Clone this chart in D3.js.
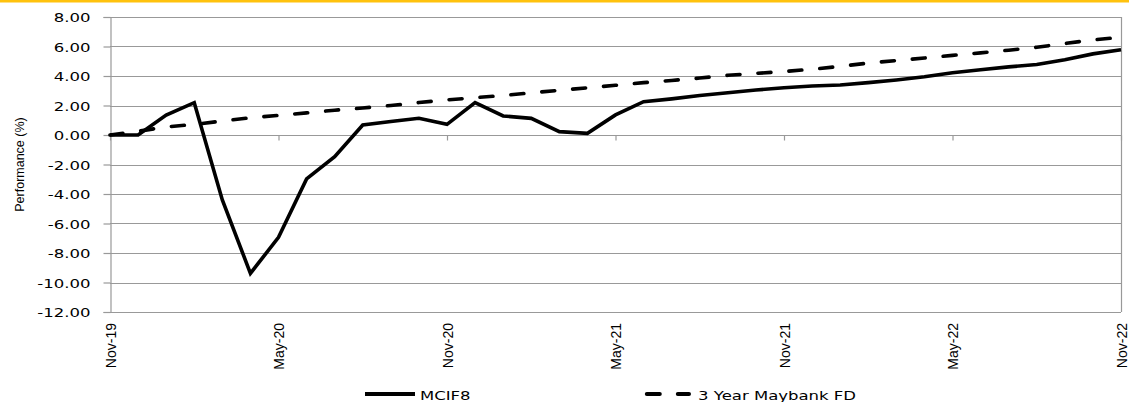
<!DOCTYPE html>
<html>
<head>
<meta charset="utf-8">
<script src="https://cdn.jsdelivr.net/npm/d3@7"></script>
<style>
  body { margin: 0; background: #fff; }
  svg { display: block; }
</style>
</head>
<body>
<svg id="chart"></svg>
<script>
// Monthly categories
const months = [
    'Nov-19', 'Dec-19', 'Jan-20', 'Feb-20', 'Mar-20', 'Apr-20', 'May-20', 'Jun-20', 'Jul-20',
    'Aug-20', 'Sep-20', 'Oct-20', 'Nov-20', 'Dec-20', 'Jan-21', 'Feb-21', 'Mar-21', 'Apr-21',
    'May-21', 'Jun-21', 'Jul-21', 'Aug-21', 'Sep-21', 'Oct-21', 'Nov-21', 'Dec-21', 'Jan-22',
    'Feb-22', 'Mar-22', 'Apr-22', 'May-22', 'Jun-22', 'Jul-22', 'Aug-22', 'Sep-22', 'Oct-22', 'Nov-22'
];

// Cumulative performance (%)
const mcif8 = [
    0, 0, 1.35, 2.19, -4.4, -9.38, -6.94, -2.98, -1.47,
    0.68, 0.92, 1.13, 0.72, 2.19, 1.29, 1.13, 0.23, 0.11,
    1.36, 2.26, 2.45, 2.68, 2.87, 3.05, 3.2, 3.32, 3.39,
    3.55, 3.73, 3.95, 4.22, 4.42, 4.62, 4.78, 5.1, 5.5, 5.78
];
const maybankFD = [
    0, 0.25, 0.55, 0.72, 0.95, 1.17, 1.33, 1.5, 1.68,
    1.83, 2.0, 2.2, 2.38, 2.53, 2.68, 2.86, 3.03, 3.2,
    3.37, 3.55, 3.7, 3.86, 4.05, 4.18, 4.3, 4.46, 4.65,
    4.88, 5.05, 5.22, 5.4, 5.57, 5.75, 5.95, 6.2, 6.45, 6.62
];

const seriesNames = ['MCIF8', '3 Year Maybank FD'];
const yTicks = [-12, -10, -8, -6, -4, -2, 0, 2, 4, 6, 8];
const xTickLabels = ['Nov-19', 'May-20', 'Nov-20', 'May-21', 'Nov-21', 'May-22', 'Nov-22'];

function drawChart() {
    const width = 1129;
    const height = 402;
    const margin = { top: 17, right: 8, bottom: 90, left: 110 };
    const grid = '#999';

    const svg = d3.select('#chart')
        .attr('width', width)
        .attr('height', height);

    // yellow rule across the top
    svg.append('rect')
        .attr('x', 0).attr('y', 0)
        .attr('width', width).attr('height', 2.5)
        .attr('fill', '#ffc20e');

    const x = d3.scalePoint()
        .domain(months)
        .range([margin.left, width - margin.right]);

    const y = d3.scaleLinear()
        .domain([-12, 8])
        .range([height - margin.bottom, margin.top]);

    // gridlines
    svg.append('g')
        .selectAll('line')
        .data(yTicks)
        .join('line')
        .attr('x1', margin.left)
        .attr('x2', width - margin.right)
        .attr('y1', d => Math.round(y(d)) + 0.5)
        .attr('y2', d => Math.round(y(d)) + 0.5)
        .attr('stroke', grid)
        .attr('stroke-width', 1.2);

    // right border of plot area
    svg.append('line')
        .attr('x1', width - margin.right + 0.5)
        .attr('x2', width - margin.right + 0.5)
        .attr('y1', y(8))
        .attr('y2', y(-12))
        .attr('stroke', grid)
        .attr('stroke-width', 1.2);

    // left axis
    const yAxis = svg.append('g')
        .attr('transform', `translate(${margin.left + 0.5},0)`)
        .call(d3.axisLeft(y).tickValues(yTicks).tickSize(7).tickFormat(d => d.toFixed(2)));
    yAxis.select('.domain').attr('stroke', grid).attr('stroke-width', 1.2);
    yAxis.selectAll('.tick line').attr('stroke', grid).attr('stroke-width', 1.2);
    yAxis.selectAll('.tick text')
        .attr('x', -20 / 1.3)
        .attr('dy', '0.36em')
        .attr('transform', 'scale(1.3,1)')
        .style('font-family', '"DejaVu Sans", Verdana, sans-serif')
        .style('font-size', '12.7px')
        .attr('fill', '#000');

    // small ticks on the zero line
    const zeroAxis = svg.append('g')
        .attr('transform', `translate(0,${Math.round(y(0)) + 0.5})`)
        .call(d3.axisBottom(x).tickValues(xTickLabels).tickSize(5).tickFormat(''));
    zeroAxis.select('.domain').remove();
    zeroAxis.selectAll('.tick line').attr('stroke', grid).attr('stroke-width', 1.2);

    // category labels at the bottom
    const xAxis = svg.append('g')
        .attr('transform', `translate(0,${y(-12)})`)
        .call(d3.axisBottom(x).tickValues(xTickLabels).tickSize(0));
    xAxis.select('.domain').remove();
    xAxis.selectAll('.tick text')
        .attr('transform', 'rotate(-90)')
        .attr('x', -11)
        .attr('y', 0)
        .attr('dy', '0.36em')
        .attr('text-anchor', 'end')
        .style('font-family', '"Liberation Sans", Arial, sans-serif')
        .style('font-size', '14px')
        .attr('fill', '#000');

    // axis title
    svg.append('text')
        .attr('transform', `translate(24,${(y(8) + y(-12)) / 2}) rotate(-90)`)
        .attr('text-anchor', 'middle')
        .style('font-family', '"Liberation Sans", Arial, sans-serif')
        .style('font-size', '12.5px')
        .attr('fill', '#000')
        .text('Performance (%)');

    const line = d3.line()
        .x((d, i) => x(months[i]))
        .y(d => y(d));

    svg.append('path')
        .datum(maybankFD)
        .attr('fill', 'none')
        .attr('stroke', '#000')
        .attr('stroke-width', 3.6)
        .attr('stroke-linecap', 'round')
        .attr('stroke-dasharray', '13,18')
        .attr('d', line);

    svg.append('path')
        .datum(mcif8)
        .attr('fill', 'none')
        .attr('stroke', '#000')
        .attr('stroke-width', 3.6)
        .attr('stroke-linejoin', 'miter')
        .attr('d', line);

    // legend
    const legend = svg.append('g');
    const legendItems = [
        { name: seriesNames[0], x0: 365, dash: null },
        { name: seriesNames[1], x0: 645, dash: '13,18' }
    ];
    legendItems.forEach(item => {
        legend.append('line')
            .attr('x1', item.x0 + (item.dash ? 1.8 : 0))
            .attr('x2', item.x0 + (item.dash ? 44 : 50))
            .attr('y1', 394)
            .attr('y2', 394)
            .attr('stroke', '#000')
            .attr('stroke-width', 4)
            .attr('stroke-linecap', item.dash ? 'round' : 'butt')
            .attr('stroke-dasharray', item.dash);
        legend.append('text')
            .attr('transform', `translate(${item.x0 + (item.dash ? 53 : 55)},399.5) scale(1.3,1)`)
            .style('font-family', '"DejaVu Sans", Verdana, sans-serif')
            .style('font-size', '12.7px')
            .attr('fill', '#000')
            .text(item.name);
    });
}

document.addEventListener('DOMContentLoaded', drawChart);
</script>
</body>
</html>
